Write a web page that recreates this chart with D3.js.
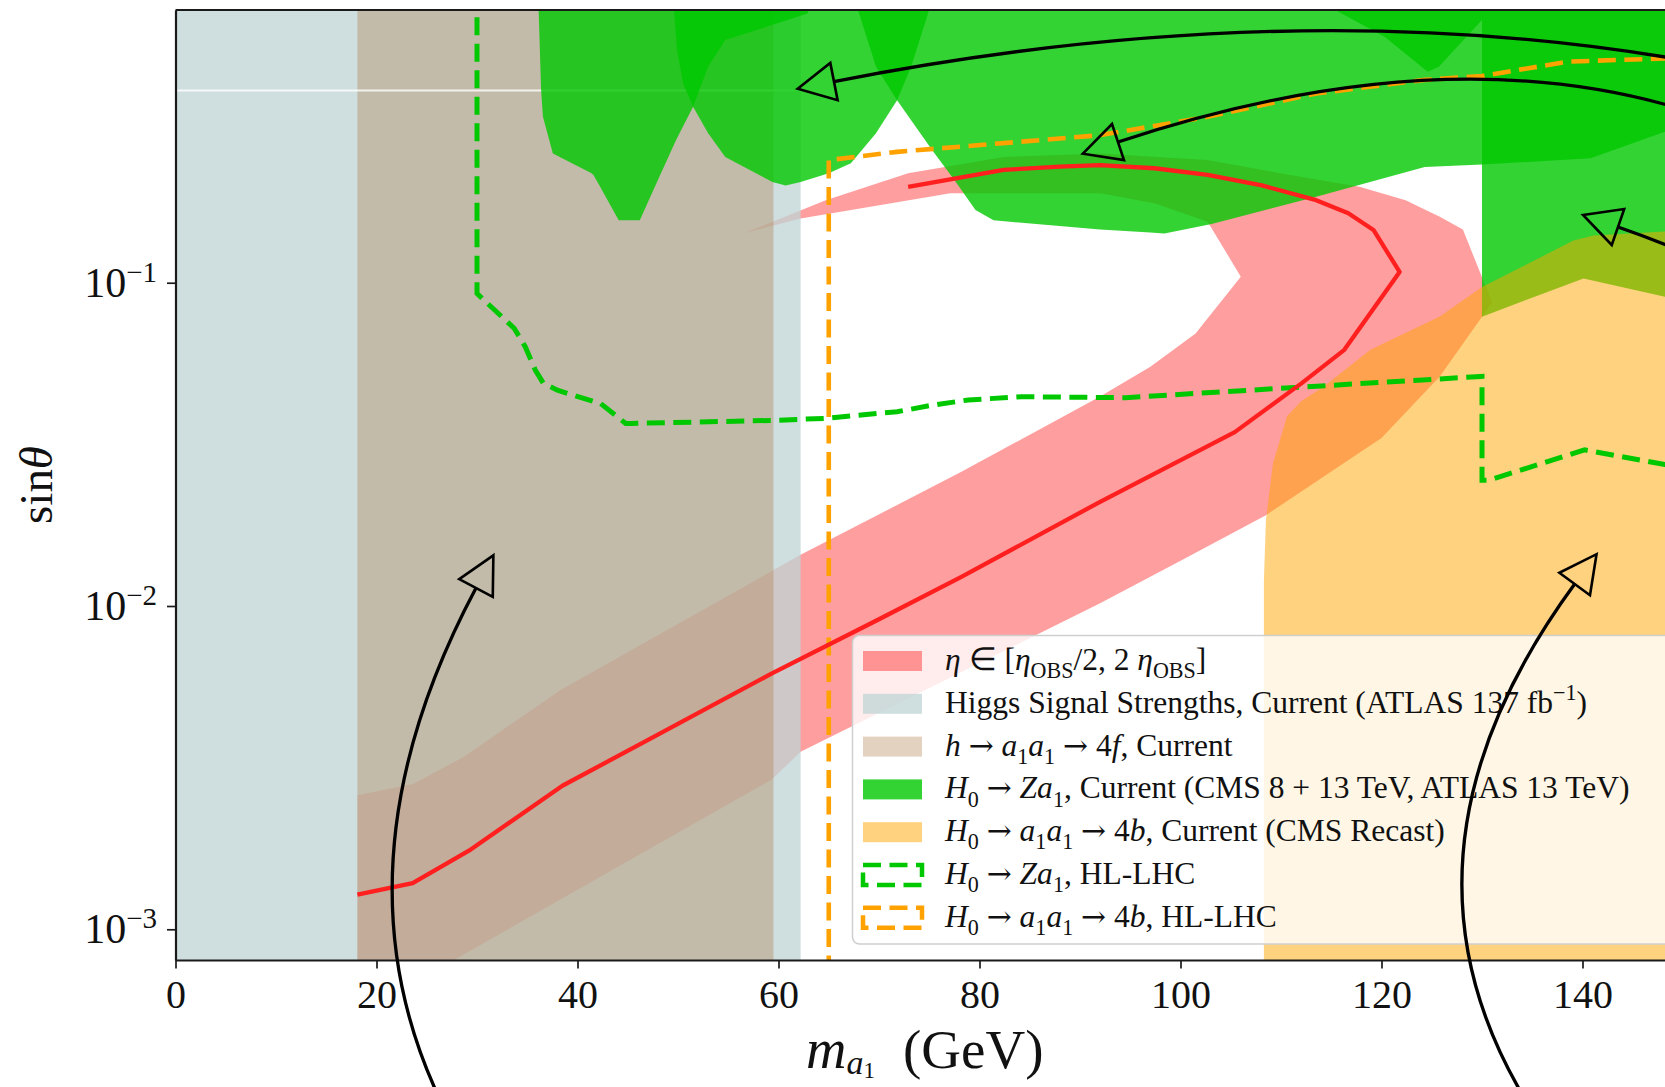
<!DOCTYPE html>
<html><head><meta charset="utf-8">
<script src="https://cdn.jsdelivr.net/npm/d3@7"></script>
<style>
html,body{margin:0;padding:0;background:#fff;}
svg{display:block;background:#fff;}
text{font-family:"Liberation Serif","Times New Roman",serif;fill:#111;}
</style></head><body>
<svg id="chart" width="1665" height="1087"></svg>
<script>
// ---------------- DATA ----------------
const xTicks = [0, 20, 40, 60, 80, 100, 120, 140];
const yTicks = [1e-3, 1e-2, 1e-1];
const yTickExponents = ["\u22123", "\u22122", "\u22121"];

// vertical exclusion bands (x ranges in GeV)
const higgsSignalRange = [0, 62.2];
const h4fRange = [18.1, 59.5];
const seamSin = 0.393;

// red central line  eta = eta_OBS
const etaCentralX = [18.1, 23.6, 29.2, 38.5, 48, 59.4, 70, 78.2, 92, 105.4, 112.1, 116.3, 121.8, 119.2, 116.7, 113.5, 108.1, 102.7, 97.4, 92, 88, 82.4, 72.9];
const etaCentralY = [0.00128, 0.00139, 0.00175, 0.00278, 0.0040, 0.0062, 0.0091, 0.0123, 0.021, 0.0345, 0.049, 0.062, 0.108, 0.1456, 0.164, 0.180, 0.200, 0.2155, 0.226, 0.231, 0.2286, 0.2234, 0.198];

// pink band eta in [eta/2, 2 eta]
const etaBand = [[18.1,5.4e-4],[27.6,8.0e-4],[59.3,2.9e-3],[62.2,3.54e-3],[78.2,6.25e-3],[92,0.0102],[100.2,0.0139],[108.5,0.0191],[120,0.0331],[125.8,0.0513],[130,0.0785],[131,0.087],[130,0.104],[128.1,0.146],[125.8,0.16],[122.4,0.180],[117.8,0.198],[109.9,0.218],[102.7,0.2395],[92,0.251],[82.4,0.245],[72.9,0.218],[64.7,0.180],[56.5,0.142],[62.2,0.158],[77.1,0.189],[92,0.189],[97.4,0.176],[102.7,0.1545],[106,0.1044],[101.5,0.0697],[97,0.055],[92,0.0445],[78.2,0.026],[62.2,0.0144],[38.3,0.0055],[28.7,0.00342],[23.7,0.00282],[18.1,0.0026]];

// H0 -> Z a1 current exclusion (several overlapping pieces)
const zaRegionA = [[36.1,1.0],[36.13,0.7],[36.38,0.393],[36.56,0.326],[37.55,0.251],[41.4,0.218],[41.6,0.215],[42.1,0.202],[44.1,0.156],[46.2,0.156],[48.0,0.208],[49.8,0.276],[51.5,0.35],[53.0,0.466],[54.7,0.563],[62.9,0.68],[64,1.0]];
const zaRegionB = [[49.6,1.0],[49.6,0.7],[49.9,0.525],[50.5,0.414],[51.5,0.35],[53.0,0.29],[54.7,0.245],[59.4,0.205],[60.7,0.2],[62.2,0.205],[65.0,0.218],[67.2,0.234],[69.7,0.29],[71.8,0.367],[73.2,0.466],[75.0,0.7],[75.3,1.0]];
const zaRegionC = [[67.9,1.0],[67.9,0.7],[69.7,0.466],[71.8,0.367],[75.3,0.257],[77.5,0.208],[79.6,0.168],[81.4,0.156],[92,0.146],[97,0.143],[98.4,0.142],[103.1,0.152],[113.5,0.1845],[124.3,0.228],[130,0.232],[140.8,0.2426],[148.2,0.293],[155,0.33],[155,1.0]];
const zaRegionF = [[115.3,1.0],[115.3,0.7],[120.3,0.577],[124.6,0.449],[125.7,0.466],[130,0.65],[130.3,1.0]];
const zaRegionD = [[130,1.0],[130,0.0785],[140.1,0.1031],[148.2,0.0905],[155,0.088],[155,1.0]];

// H0 -> a1 a1 -> 4b current (CMS recast)
const b4Current = [[108.3,3e-4],[108.3,0.012],[108.5,0.0184],[109.2,0.0276],[110.6,0.0386],[112,0.043],[114.2,0.0476],[118.9,0.062],[125.8,0.0786],[130,0.097],[139.1,0.135],[141.1,0.140],[148.2,0.144],[155,0.145],[155,3e-4]];

// HL-LHC projections
const zaHLX = [30, 30, 30.5, 33.7, 34.8, 35.8, 36.6, 38, 42.3, 44.8, 45.3, 59.4, 65, 67.5, 71.8, 75.3, 78.9, 84.2, 94.5, 109.3, 130, 130, 130.7, 140.2, 148.2, 150];
const zaHLY = [0.8, 0.0927, 0.0895, 0.0723, 0.0634, 0.0537, 0.0489, 0.0465, 0.0423, 0.0367, 0.0367, 0.0375, 0.0381, 0.0388, 0.0399, 0.0418, 0.0434, 0.0444, 0.0441, 0.047, 0.0513, 0.0245, 0.0245, 0.0304, 0.0274, 0.0268];
const b4HLX = [65, 65, 71.8, 92, 102.7, 113.5, 124.3, 130, 138.6, 148.2, 150];
const b4HLY = [5e-4, 0.2395, 0.254, 0.286, 0.326, 0.385, 0.424, 0.436, 0.483, 0.494, 0.496];

// legend labels: [text, kind]  kind: n normal, i italic, s subscript, p superscript
const legendLabels = [
  [["\u03b7","i"],[" \u2208 [","n"],["\u03b7","i"],["OBS","s"],["/2, 2 ","n"],["\u03b7","i"],["OBS","s"],["]","n"]],
  [["Higgs Signal Strengths, Current (ATLAS 137 fb","n"],["\u22121","p"],[")","n"]],
  [["h","i"],[" \u2192 ","n"],["a","i"],["1","s"],["a","i"],["1","s"],[" \u2192 4","n"],["f","i"],[", Current","n"]],
  [["H","i"],["0","s"],[" \u2192 ","n"],["Za","i"],["1","s"],[", Current (CMS 8 + 13 TeV, ATLAS 13 TeV)","n"]],
  [["H","i"],["0","s"],[" \u2192 ","n"],["a","i"],["1","s"],["a","i"],["1","s"],[" \u2192 4","n"],["b","i"],[", Current (CMS Recast)","n"]],
  [["H","i"],["0","s"],[" \u2192 ","n"],["Za","i"],["1","s"],[", HL-LHC","n"]],
  [["H","i"],["0","s"],[" \u2192 ","n"],["a","i"],["1","s"],["a","i"],["1","s"],[" \u2192 4","n"],["b","i"],[", HL-LHC","n"]]
];

// annotation arrows (data coordinates): tail, bend control, head base
const arrowTails = [[26.82,2.761e-4],[136.27,2.394e-4],[151.69,0.4781],[151.69,0.3301],[153.68,0.1110]];
const arrowBends = [[14.93,1.515e-3],[118.36,1.526e-3],[111.89,0.8043],[126.92,0.5981],[148.71,0.1308]];
const arrowHeads = [[29.90,1.1365e-2],[139.22,1.1695e-2],[65.52,0.4191],[93.78,0.2724],[143.53,0.1487]];

// ---------------- DRAW ----------------
const svg = d3.select("#chart");
const x = d3.scaleLinear().domain([0, 150]).range([175.5, 1683]);
const y = d3.scaleLog().domain([8.035e-4, 0.6976]).range([960, 10]);
const plotL = x(0), plotR = x(150), plotT = 10, plotB = 960;

const C = {
  pink: "rgba(255,0,0,0.38)",
  blue: "rgba(192,212,212,0.77)",
  tan: "rgba(170,115,60,0.32)",
  green: "rgba(0,200,0,0.8)",
  orange: "rgba(255,165,0,0.5)",
  greenLine: "#00c800",
  orangeLine: "#ffa200",
  red: "#ff1f1f"
};

svg.append("defs").append("clipPath").attr("id", "plotclip")
  .append("rect").attr("x", plotL).attr("y", plotT).attr("width", plotR - plotL).attr("height", plotB - plotT);
const g = svg.append("g").attr("clip-path", "url(#plotclip)");

const line = d3.line().x(d => x(d[0])).y(d => y(d[1]));
const zip = (a, b) => a.map((v, i) => [v, b[i]]);
const poly = (pts, fill) => g.append("path").attr("d", line(pts) + "Z").attr("fill", fill).attr("stroke", "none");

// pink band (lowest)
poly(etaBand, C.pink);
// Higgs signal strengths
g.append("rect").attr("x", x(higgsSignalRange[0])).attr("width", x(higgsSignalRange[1]) - x(higgsSignalRange[0]))
  .attr("y", plotT).attr("height", plotB - plotT).attr("fill", C.blue);
// h -> a a -> 4f
g.append("rect").attr("x", x(h4fRange[0])).attr("width", x(h4fRange[1]) - x(h4fRange[0]))
  .attr("y", plotT).attr("height", plotB - plotT).attr("fill", C.tan);
// thin seam
g.append("line").attr("x1", x(higgsSignalRange[0])).attr("x2", x(higgsSignalRange[1]))
  .attr("y1", y(seamSin)).attr("y2", y(seamSin)).attr("stroke", "rgba(255,255,255,0.8)").attr("stroke-width", 2);
// green current regions
[zaRegionA, zaRegionB, zaRegionC, zaRegionF, zaRegionD].forEach(r => poly(r, C.green));
// orange current
poly(b4Current, C.orange);
// HL-LHC dashed
g.append("path").attr("d", line(zip(zaHLX, zaHLY))).attr("fill", "none").attr("stroke", C.greenLine)
  .attr("stroke-width", 5).attr("stroke-dasharray", "18,8.5");
g.append("path").attr("d", line(zip(b4HLX, b4HLY))).attr("fill", "none").attr("stroke", C.orangeLine)
  .attr("stroke-width", 4.6).attr("stroke-dasharray", "18,8.5");
// red central line
g.append("path").attr("d", line(zip(etaCentralX, etaCentralY))).attr("fill", "none").attr("stroke", C.red)
  .attr("stroke-width", 4.3).attr("stroke-linejoin", "round");

// ---------------- AXES ----------------
const axisColor = "#1a1a1a";
const xMinor = d3.range(0, 151, 2).filter(v => v % 20 !== 0);
const xAxisG = svg.append("g").attr("transform", `translate(0,${plotB})`);
xAxisG.call(d3.axisBottom(x).tickValues(xMinor).tickSize(4.5).tickSizeOuter(0).tickFormat(""));
xAxisG.call(d3.axisBottom(x).tickValues(xTicks).tickSize(8.5).tickSizeOuter(0).tickPadding(11).tickFormat(d3.format("d")));
xAxisG.selectAll("path,line").attr("stroke", axisColor).attr("stroke-width", 1.7);
xAxisG.selectAll(".domain").attr("stroke-width", 2.2);
xAxisG.selectAll("text").attr("font-family", "Liberation Serif, serif").attr("font-size", 40).attr("fill", "#111");

const yMinor = [];
[1e-4, 1e-3, 1e-2, 1e-1].forEach(dec => { for (let k = 2; k <= 9; k++) { const v = k * dec; if (v >= y.domain()[0] && v <= y.domain()[1]) yMinor.push(v); } });
const yAxisG = svg.append("g").attr("transform", `translate(${plotL},0)`);
yAxisG.call(d3.axisLeft(y).tickValues(yMinor).tickSize(4.5).tickSizeOuter(0).tickFormat(""));
yAxisG.call(d3.axisLeft(y).tickValues(yTicks).tickSize(8.5).tickSizeOuter(0).tickFormat(""));
yAxisG.selectAll("path,line").attr("stroke", axisColor).attr("stroke-width", 1.7);
yAxisG.selectAll(".domain").attr("stroke-width", 2.2);

yTicks.forEach((v, i) => {
  const t = svg.append("text").attr("x", 157).attr("y", y(v) + 14).attr("text-anchor", "end");
  t.append("tspan").attr("font-size", 42).text("10");
  t.append("tspan").attr("font-size", 29).attr("dy", -15).text(yTickExponents[i]);
});
// top spine
svg.append("line").attr("x1", plotL).attr("x2", plotR).attr("y1", plotT).attr("y2", plotT)
  .attr("stroke", axisColor).attr("stroke-width", 2.2);

// axis titles
const xl = svg.append("text").attr("x", 806).attr("y", 1068);
xl.append("tspan").attr("font-size", 56).attr("font-style", "italic").text("m");
xl.append("tspan").attr("font-size", 34).attr("font-style", "italic").attr("dy", 6).text("a");
xl.append("tspan").attr("font-size", 23).attr("dy", 4).text("1");
xl.append("tspan").attr("font-size", 55).attr("x", 903).attr("dy", -10).text("(GeV)");

const yl = svg.append("text").attr("transform", "translate(51.5,485) rotate(-90)").attr("text-anchor", "middle");
yl.append("tspan").attr("font-size", 47).text("sin");
yl.append("tspan").attr("font-size", 47).attr("font-style", "italic").text("\u03b8");

// ---------------- LEGEND ----------------
function richText(sel, segs, base) {
  let shift = 0;
  segs.forEach(([s, k]) => {
    let target = 0, size = base;
    if (k === "s") { target = 0.26 * base; size = 0.7 * base; }
    if (k === "p") { target = -0.4 * base; size = 0.7 * base; }
    const parts = s.split(/(\u2192)/).filter(p => p.length);
    parts.forEach((p, j) => {
      const t = sel.append("tspan").attr("font-size", size).attr("dy", j === 0 ? target - shift : 0).text(p);
      if (k === "i") t.attr("font-style", "italic");
      if (p === "\u2192") t.attr("font-family", "DejaVu Serif, serif").attr("font-size", size * 0.95);
    });
    shift = target;
  });
}
const lg = svg.append("g");
lg.append("rect").attr("x", 852.5).attr("y", 635.5).attr("width", 900).attr("height", 308.5).attr("rx", 7)
  .attr("fill", "#fff").attr("fill-opacity", 0.8).attr("stroke", "#cfcfcf").attr("stroke-width", 1.5);
const swatchFill = [C.pink, C.blue, C.tan, C.green, C.orange, null, null];
const swatchDash = [null, null, null, null, null, C.greenLine, C.orangeLine];
legendLabels.forEach((segs, i) => {
  const cy = 661 + i * 42.8;
  const r = lg.append("rect").attr("x", 863).attr("y", cy - 10).attr("width", 59).attr("height", 20);
  if (swatchFill[i]) r.attr("fill", swatchFill[i]);
  else r.attr("fill", "none").attr("stroke", swatchDash[i]).attr("stroke-width", 4.5).attr("stroke-dasharray", "18,8.5");
  const t = lg.append("text").attr("x", 945).attr("y", cy + 9);
  richText(t, segs, 31.5);
});

// ---------------- ARROWS ----------------
const ag = svg.append("g");
arrowTails.forEach((tl, i) => {
  const p0 = [x(tl[0]), y(tl[1])];
  const p1 = [x(arrowBends[i][0]), y(arrowBends[i][1])];
  const p2 = [x(arrowHeads[i][0]), y(arrowHeads[i][1])];
  ag.append("path").attr("d", `M${p0[0]},${p0[1]} Q${p1[0]},${p1[1]} ${p2[0]},${p2[1]}`)
    .attr("fill", "none").attr("stroke", "#000").attr("stroke-width", 3.3);
  const dx = p2[0] - p1[0], dy = p2[1] - p1[1], L = Math.hypot(dx, dy);
  const ux = dx / L, uy = dy / L, nx = -uy, ny = ux;
  const tip = [p2[0] + 37 * ux, p2[1] + 37 * uy];
  const c1 = [p2[0] + 19 * nx, p2[1] + 19 * ny];
  const c2 = [p2[0] - 19 * nx, p2[1] - 19 * ny];
  ag.append("path").attr("d", `M${tip}L${c1}L${c2}Z`).attr("fill", "none").attr("stroke", "#000")
    .attr("stroke-width", 2.6).attr("stroke-linejoin", "miter");
});
</script></body></html>
